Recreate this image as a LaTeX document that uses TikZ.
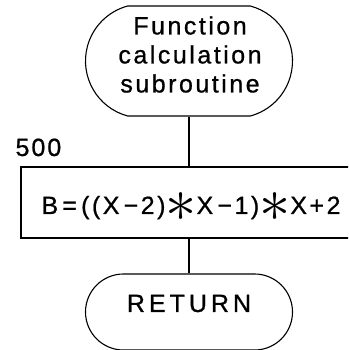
\documentclass[tikz,border=0pt]{standalone}
\usepackage{fontspec}
\setmainfont[FakeBold=0.8]{Liberation Sans}
\usetikzlibrary{shapes.misc}
\newcommand\bigast{\raisebox{-7.5pt}{\scalebox{2.5}{$\ast$}}}
\begin{document}
\begin{tikzpicture}[x=1pt,y=1pt,
  line width=1.1pt,
  term/.style={draw, rounded rectangle, minimum width=207pt, inner sep=0pt},
  txt/.style={font=\fontsize{25}{29}\selectfont, inner sep=0pt}]
\useasboundingbox (0,0) rectangle (348,350);
\clip (0,0) rectangle (348,350);
% top terminal
\node[term, rounded rectangle arc length=150, minimum height=110pt] (t1) at (189,289) {};
\node[txt, align=center] (t1txt) at (190,295.5)
  {\addfontfeature{LetterSpace=10}Function\\\addfontfeature{LetterSpace=10}calculation\\\addfontfeature{LetterSpace=10}subroutine};
% process box
\node[draw, minimum width=339pt, minimum height=71pt, inner sep=0pt] (box) at (190.5,147.5) {};
\node[txt, anchor=base west] (lbl) at (15,194) {\addfontfeature{LetterSpace=8}500};
\node[txt, anchor=base west] (formula) at (41,136)
  {\addfontfeature{LetterSpace=10}B\,=\,((X\,−2)\bigast X\,−1)\bigast X+2};
% return terminal
\node[term, minimum height=76pt, text height=10pt, text depth=10pt] (t2) at (189,38)
  {\fontsize{25}{29}\selectfont\addfontfeature{LetterSpace=16}RETURN};
% connectors
\draw (t1.south) -- (t1.south |- box.north);
\draw (t1.south |- box.south) -- (t2.north);
\end{tikzpicture}
\end{document}
